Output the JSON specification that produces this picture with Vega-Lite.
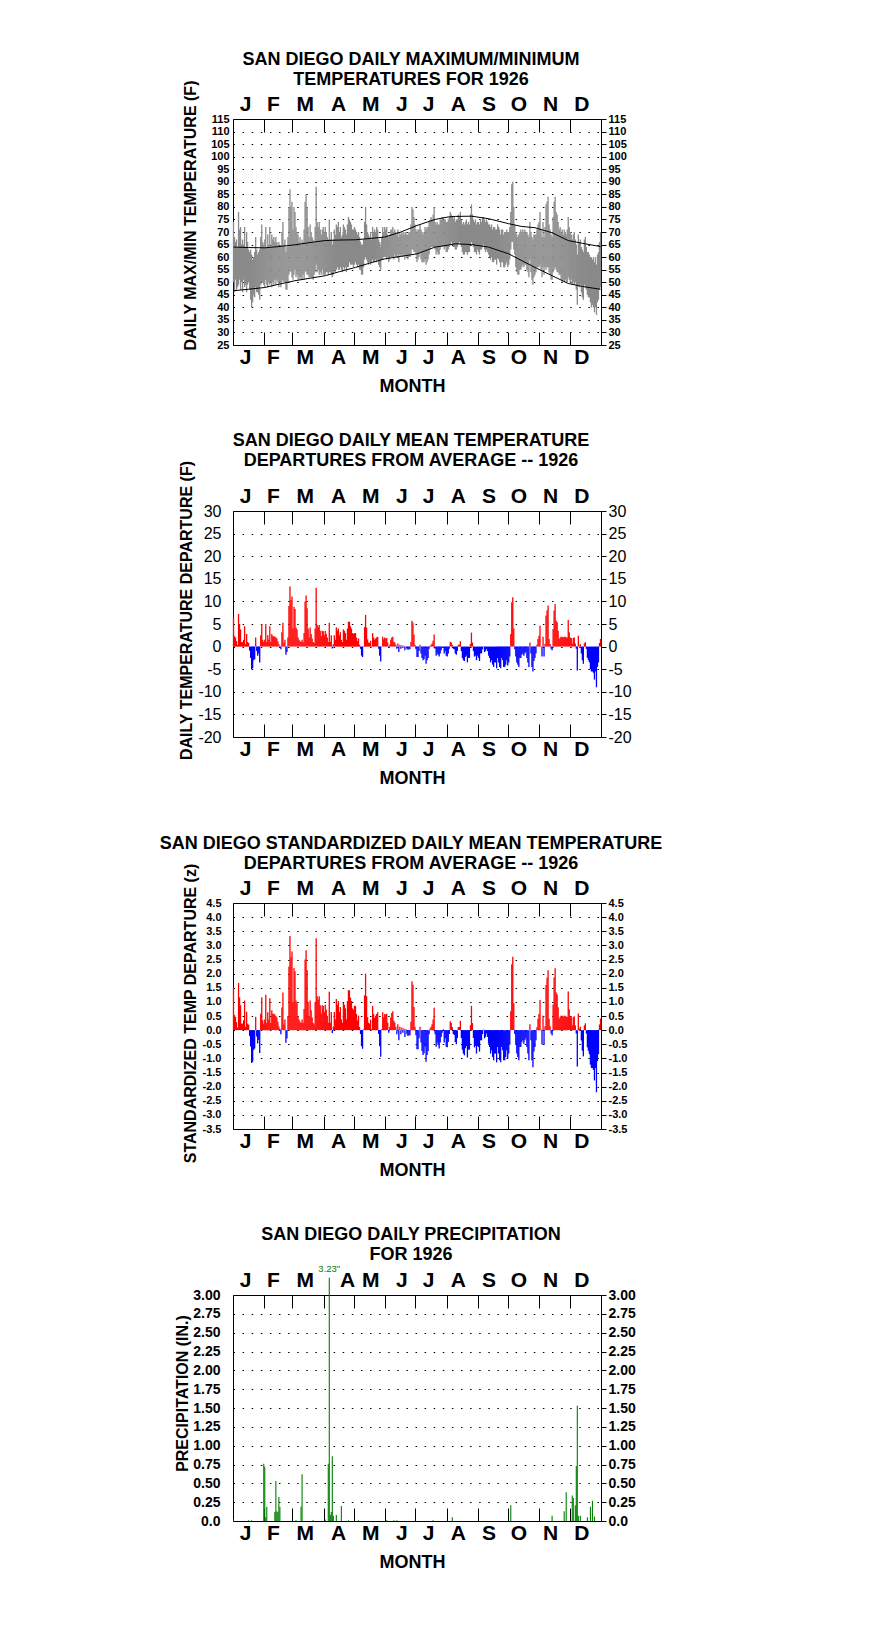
{
"$schema": "https://vega.github.io/schema/vega-lite/v6.json",
"background": "white",
"padding": {"left": 159, "top": 50, "right": 5, "bottom": 5},
"bounds": "flush",
"spacing": 166,
"config": {
  "font": "Liberation Sans",
  "view": {"stroke": "black", "strokeWidth": 1},
  "title": {"color": "black", "font": "Liberation Sans", "fontWeight": "bold", "fontSize": 18, "lineHeight": 20, "anchor": "middle", "frame": "group", "dx": -6, "offset": -9.5},
  "axis": {"grid": false, "labelColor": "black", "titleColor": "black", "tickColor": "black", "labelFont": "Liberation Sans", "titleFont": "Liberation Sans", "domain": false},
  "axisX": {"labelFontSize": 21, "labelFontWeight": "bold", "labelFlush": false, "labelOverlap": false, "labelBound": false, "ticks": false, "labelAngle": 0,
    "labelExpr": "datum.value < 20 ? 'J' : datum.value < 50 ? 'F' : datum.value < 80 ? 'M' : datum.value < 120 ? 'A' : datum.value < 150 ? 'M' : datum.value < 180 ? 'J' : datum.value < 210 ? 'J' : datum.value < 240 ? 'A' : datum.value < 270 ? 'S' : datum.value < 300 ? 'O' : datum.value < 330 ? 'N' : 'D'"},
  "axisTop": {"labelPadding": 4.5},
  "axisBottom": {"labelPadding": 1, "titleFontSize": 18, "titleFontWeight": "bold", "titlePadding": 10.5, "titleX": 179},
  "axisLeft": {"grid": true, "gridColor": "black", "gridDash": [1.5, 7.6], "gridWidth": 1, "ticks": false, "titleFontSize": 16, "titleFontWeight": "bold", "titleAngle": 270},
  "axisRight": {"ticks": true, "tickSize": 5, "labelPadding": 2}
},
"datasets": {
"days": [
{"d":1,"t":6.5,"z":1.51,"hi":74,"lo":50},{"d":2,"t":2.3,"z":0.53,"hi":68,"lo":46},{"d":3,"t":2.0,"z":0.47,"hi":66,"lo":51},{"d":4,"t":1.2,"z":0.28,"hi":67,"lo":47},{"d":5,"t":0.4,"z":0.09,"hi":64,"lo":48},{"d":6,"t":7.2,"z":1.67,"hi":78,"lo":49},{"d":7,"t":5.0,"z":1.16,"hi":71,"lo":51},{"d":8,"t":3.8,"z":0.88,"hi":72,"lo":47},{"d":9,"t":1.0,"z":0.23,"hi":65,"lo":50},{"d":10,"t":1.0,"z":0.23,"hi":67,"lo":46},
{"d":11,"t":1.5,"z":0.35,"hi":65,"lo":51},{"d":12,"t":4.5,"z":1.05,"hi":72,"lo":48},{"d":13,"t":0.5,"z":0.12,"hi":64,"lo":49},{"d":14,"t":2.8,"z":0.65,"hi":70,"lo":46},{"d":15,"t":1.0,"z":0.23,"hi":66,"lo":49},{"d":16,"t":0.8,"z":0.19,"hi":63,"lo":50},{"d":17,"t":-0.9,"z":-0.21,"hi":62,"lo":47},{"d":18,"t":-2.5,"z":-0.58,"hi":63,"lo":43},{"d":19,"t":-5.0,"z":-1.16,"hi":61,"lo":40},{"d":20,"t":-4.8,"z":-1.12,"hi":59,"lo":42},
{"d":21,"t":-3.0,"z":-0.70,"hi":60,"lo":45},{"d":22,"t":-2.8,"z":-0.65,"hi":62,"lo":44},{"d":23,"t":2.0,"z":0.47,"hi":68,"lo":48},{"d":24,"t":-1.0,"z":-0.23,"hi":63,"lo":46},{"d":25,"t":-2.0,"z":-0.47,"hi":61,"lo":46},{"d":26,"t":-1.5,"z":-0.35,"hi":62,"lo":45},{"d":27,"t":-3.5,"z":-0.81,"hi":63,"lo":43},{"d":28,"t":2.5,"z":0.58,"hi":68,"lo":49},{"d":29,"t":5.0,"z":1.16,"hi":73,"lo":50},{"d":30,"t":1.5,"z":0.35,"hi":66,"lo":50},
{"d":31,"t":1.0,"z":0.23,"hi":65,"lo":49},{"d":32,"t":1.5,"z":0.38,"hi":67,"lo":48},{"d":33,"t":5.0,"z":1.25,"hi":72,"lo":51},{"d":34,"t":1.0,"z":0.25,"hi":64,"lo":49},{"d":35,"t":2.5,"z":0.63,"hi":69,"lo":48},{"d":36,"t":1.5,"z":0.38,"hi":65,"lo":50},{"d":37,"t":4.5,"z":1.13,"hi":72,"lo":49},{"d":38,"t":1.0,"z":0.25,"hi":64,"lo":50},{"d":39,"t":2.8,"z":0.70,"hi":69,"lo":48},{"d":40,"t":2.3,"z":0.58,"hi":67,"lo":50},
{"d":41,"t":2.3,"z":0.58,"hi":68,"lo":49},{"d":42,"t":2.2,"z":0.55,"hi":66,"lo":51},{"d":43,"t":2.0,"z":0.50,"hi":68,"lo":49},{"d":44,"t":1.8,"z":0.45,"hi":66,"lo":51},{"d":45,"t":1.2,"z":0.30,"hi":65,"lo":50},{"d":46,"t":0.5,"z":0.13,"hi":66,"lo":48},{"d":47,"t":0.2,"z":0.05,"hi":64,"lo":50},{"d":48,"t":-0.6,"z":-0.15,"hi":64,"lo":48},{"d":49,"t":3.2,"z":0.80,"hi":70,"lo":50},{"d":50,"t":5.3,"z":1.33,"hi":74,"lo":51},
{"d":51,"t":0.8,"z":0.20,"hi":65,"lo":50},{"d":52,"t":1.5,"z":0.38,"hi":67,"lo":50},{"d":53,"t":-1.8,"z":-0.45,"hi":62,"lo":47},{"d":54,"t":-1.2,"z":-0.30,"hi":64,"lo":47},{"d":55,"t":2.0,"z":0.50,"hi":68,"lo":50},{"d":56,"t":9.0,"z":2.25,"hi":80,"lo":53},{"d":57,"t":13.3,"z":3.33,"hi":87,"lo":55},{"d":58,"t":10.3,"z":2.58,"hi":80,"lo":54},{"d":59,"t":11.1,"z":2.78,"hi":82,"lo":52},{"d":60,"t":4.0,"z":1.00,"hi":71,"lo":51},
{"d":61,"t":8.8,"z":2.20,"hi":80,"lo":53},{"d":62,"t":8.3,"z":2.08,"hi":78,"lo":55},{"d":63,"t":4.2,"z":1.05,"hi":72,"lo":52},{"d":64,"t":3.8,"z":0.95,"hi":70,"lo":53},{"d":65,"t":2.0,"z":0.50,"hi":69,"lo":51},{"d":66,"t":1.5,"z":0.38,"hi":66,"lo":52},{"d":67,"t":1.2,"z":0.30,"hi":68,"lo":51},{"d":68,"t":1.0,"z":0.25,"hi":65,"lo":52},{"d":69,"t":1.5,"z":0.38,"hi":67,"lo":51},{"d":70,"t":1.0,"z":0.25,"hi":66,"lo":53},
{"d":71,"t":3.0,"z":0.75,"hi":71,"lo":51},{"d":72,"t":10.0,"z":2.50,"hi":82,"lo":54},{"d":73,"t":11.3,"z":2.83,"hi":85,"lo":55},{"d":74,"t":8.5,"z":2.13,"hi":80,"lo":53},{"d":75,"t":4.0,"z":1.00,"hi":72,"lo":53},{"d":76,"t":2.0,"z":0.50,"hi":68,"lo":52},{"d":77,"t":4.2,"z":1.05,"hi":73,"lo":52},{"d":78,"t":2.8,"z":0.70,"hi":70,"lo":52},{"d":79,"t":1.8,"z":0.45,"hi":68,"lo":52},{"d":80,"t":1.0,"z":0.25,"hi":67,"lo":51},
{"d":81,"t":0.8,"z":0.20,"hi":66,"lo":53},{"d":82,"t":4.0,"z":1.00,"hi":72,"lo":54},{"d":83,"t":13.0,"z":3.25,"hi":88,"lo":57},{"d":84,"t":4.8,"z":1.20,"hi":74,"lo":54},{"d":85,"t":4.3,"z":1.08,"hi":72,"lo":55},{"d":86,"t":4.8,"z":1.20,"hi":74,"lo":53},{"d":87,"t":3.5,"z":0.88,"hi":71,"lo":54},{"d":88,"t":2.3,"z":0.58,"hi":69,"lo":53},{"d":89,"t":3.5,"z":0.88,"hi":71,"lo":55},{"d":90,"t":3.4,"z":0.85,"hi":72,"lo":53},
{"d":91,"t":2.5,"z":0.64,"hi":70,"lo":53},{"d":92,"t":3.5,"z":0.90,"hi":72,"lo":53},{"d":93,"t":2.8,"z":0.72,"hi":70,"lo":54},{"d":94,"t":2.0,"z":0.51,"hi":68,"lo":54},{"d":95,"t":1.0,"z":0.26,"hi":67,"lo":53},{"d":96,"t":5.3,"z":1.36,"hi":75,"lo":54},{"d":97,"t":1.0,"z":0.26,"hi":67,"lo":54},{"d":98,"t":2.5,"z":0.64,"hi":70,"lo":53},{"d":99,"t":-0.4,"z":-0.10,"hi":65,"lo":52},{"d":100,"t":0.5,"z":0.13,"hi":67,"lo":53},
{"d":101,"t":2.5,"z":0.64,"hi":71,"lo":55},{"d":102,"t":1.5,"z":0.38,"hi":69,"lo":54},{"d":103,"t":4.3,"z":1.10,"hi":73,"lo":55},{"d":104,"t":3.5,"z":0.90,"hi":72,"lo":56},{"d":105,"t":4.0,"z":1.03,"hi":74,"lo":55},{"d":106,"t":2.5,"z":0.64,"hi":70,"lo":55},{"d":107,"t":3.2,"z":0.82,"hi":72,"lo":56},{"d":108,"t":1.5,"z":0.38,"hi":68,"lo":55},{"d":109,"t":1.0,"z":0.26,"hi":69,"lo":54},{"d":110,"t":3.8,"z":0.97,"hi":73,"lo":56},
{"d":111,"t":3.5,"z":0.90,"hi":72,"lo":55},{"d":112,"t":3.0,"z":0.77,"hi":71,"lo":56},{"d":113,"t":1.5,"z":0.38,"hi":69,"lo":54},{"d":114,"t":4.0,"z":1.03,"hi":73,"lo":56},{"d":115,"t":5.5,"z":1.41,"hi":76,"lo":56},{"d":116,"t":5.5,"z":1.41,"hi":75,"lo":58},{"d":117,"t":4.5,"z":1.15,"hi":74,"lo":57},{"d":118,"t":4.0,"z":1.03,"hi":73,"lo":57},{"d":119,"t":3.0,"z":0.77,"hi":71,"lo":57},{"d":120,"t":2.8,"z":0.72,"hi":71,"lo":56},
{"d":121,"t":3.0,"z":0.86,"hi":72,"lo":57},{"d":122,"t":3.0,"z":0.86,"hi":71,"lo":58},{"d":123,"t":2.0,"z":0.57,"hi":70,"lo":57},{"d":124,"t":1.2,"z":0.34,"hi":69,"lo":56},{"d":125,"t":1.8,"z":0.51,"hi":70,"lo":57},{"d":126,"t":0.4,"z":0.11,"hi":68,"lo":55},{"d":127,"t":-0.5,"z":-0.14,"hi":66,"lo":55},{"d":128,"t":-2.0,"z":-0.57,"hi":65,"lo":53},{"d":129,"t":-2.3,"z":-0.66,"hi":65,"lo":53},{"d":130,"t":0.1,"z":0.03,"hi":67,"lo":56},
{"d":131,"t":4.3,"z":1.23,"hi":74,"lo":59},{"d":132,"t":7.0,"z":2.00,"hi":80,"lo":60},{"d":133,"t":4.2,"z":1.20,"hi":73,"lo":59},{"d":134,"t":1.6,"z":0.46,"hi":70,"lo":58},{"d":135,"t":0.9,"z":0.26,"hi":69,"lo":57},{"d":136,"t":0.8,"z":0.23,"hi":68,"lo":58},{"d":137,"t":1.3,"z":0.37,"hi":70,"lo":57},{"d":138,"t":0.1,"z":0.03,"hi":67,"lo":58},{"d":139,"t":3.0,"z":0.86,"hi":72,"lo":59},{"d":140,"t":2.0,"z":0.57,"hi":70,"lo":58},
{"d":141,"t":1.5,"z":0.43,"hi":71,"lo":58},{"d":142,"t":1.8,"z":0.51,"hi":70,"lo":59},{"d":143,"t":2.0,"z":0.57,"hi":72,"lo":58},{"d":144,"t":2.2,"z":0.63,"hi":71,"lo":59},{"d":145,"t":-0.5,"z":-0.14,"hi":67,"lo":57},{"d":146,"t":-2.0,"z":-0.57,"hi":66,"lo":56},{"d":147,"t":-3.3,"z":-0.94,"hi":64,"lo":55},{"d":148,"t":0.1,"z":0.03,"hi":68,"lo":59},{"d":149,"t":2.2,"z":0.63,"hi":72,"lo":59},{"d":150,"t":1.6,"z":0.46,"hi":70,"lo":60},
{"d":151,"t":2.0,"z":0.57,"hi":72,"lo":60},{"d":152,"t":1.8,"z":0.55,"hi":71,"lo":60},{"d":153,"t":1.9,"z":0.58,"hi":72,"lo":59},{"d":154,"t":0.9,"z":0.27,"hi":69,"lo":60},{"d":155,"t":-0.3,"z":-0.09,"hi":68,"lo":58},{"d":156,"t":0.4,"z":0.12,"hi":69,"lo":59},{"d":157,"t":1.5,"z":0.45,"hi":71,"lo":60},{"d":158,"t":2.0,"z":0.61,"hi":71,"lo":60},{"d":159,"t":2.2,"z":0.67,"hi":72,"lo":60},{"d":160,"t":1.1,"z":0.33,"hi":70,"lo":59},
{"d":161,"t":0.9,"z":0.27,"hi":71,"lo":61},{"d":162,"t":0.4,"z":0.12,"hi":70,"lo":60},{"d":163,"t":-0.5,"z":-0.15,"hi":69,"lo":60},{"d":164,"t":0.7,"z":0.21,"hi":71,"lo":61},{"d":165,"t":-1.2,"z":-0.36,"hi":68,"lo":58},{"d":166,"t":0.4,"z":0.12,"hi":70,"lo":61},{"d":167,"t":-0.5,"z":-0.15,"hi":69,"lo":60},{"d":168,"t":0.3,"z":0.09,"hi":70,"lo":61},{"d":169,"t":-0.3,"z":-0.09,"hi":69,"lo":60},{"d":170,"t":0.2,"z":0.06,"hi":70,"lo":61},
{"d":171,"t":-0.8,"z":-0.24,"hi":69,"lo":59},{"d":172,"t":0.1,"z":0.03,"hi":70,"lo":61},{"d":173,"t":-0.5,"z":-0.15,"hi":69,"lo":60},{"d":174,"t":-0.7,"z":-0.21,"hi":69,"lo":59},{"d":175,"t":-0.6,"z":-0.18,"hi":70,"lo":60},{"d":176,"t":-0.6,"z":-0.18,"hi":70,"lo":60},{"d":177,"t":1.0,"z":0.30,"hi":73,"lo":61},{"d":178,"t":5.7,"z":1.73,"hi":80,"lo":63},{"d":179,"t":5.3,"z":1.61,"hi":79,"lo":63},{"d":180,"t":2.7,"z":0.82,"hi":76,"lo":62},
{"d":181,"t":0.4,"z":0.12,"hi":73,"lo":62},{"d":182,"t":-0.6,"z":-0.18,"hi":71,"lo":61},{"d":183,"t":-2.3,"z":-0.68,"hi":70,"lo":58},{"d":184,"t":-2.3,"z":-0.68,"hi":71,"lo":59},{"d":185,"t":-1.0,"z":-0.29,"hi":71,"lo":60},{"d":186,"t":0.4,"z":0.12,"hi":73,"lo":62},{"d":187,"t":-1.5,"z":-0.44,"hi":71,"lo":59},{"d":188,"t":-2.5,"z":-0.74,"hi":70,"lo":58},{"d":189,"t":-3.0,"z":-0.88,"hi":69,"lo":58},{"d":190,"t":-2.8,"z":-0.82,"hi":70,"lo":58},
{"d":191,"t":-2.0,"z":-0.59,"hi":72,"lo":59},{"d":192,"t":-3.8,"z":-1.12,"hi":71,"lo":57},{"d":193,"t":-3.0,"z":-0.88,"hi":72,"lo":58},{"d":194,"t":-2.5,"z":-0.74,"hi":72,"lo":59},{"d":195,"t":-0.5,"z":-0.15,"hi":74,"lo":61},{"d":196,"t":0.2,"z":0.06,"hi":75,"lo":63},{"d":197,"t":0.4,"z":0.12,"hi":76,"lo":64},{"d":198,"t":0.7,"z":0.21,"hi":75,"lo":64},{"d":199,"t":1.3,"z":0.38,"hi":77,"lo":64},{"d":200,"t":2.7,"z":0.79,"hi":80,"lo":64},
{"d":201,"t":-0.5,"z":-0.15,"hi":74,"lo":63},{"d":202,"t":-2.0,"z":-0.59,"hi":73,"lo":61},{"d":203,"t":-1.5,"z":-0.44,"hi":74,"lo":62},{"d":204,"t":-1.8,"z":-0.53,"hi":73,"lo":61},{"d":205,"t":-2.2,"z":-0.65,"hi":73,"lo":61},{"d":206,"t":-1.5,"z":-0.44,"hi":75,"lo":63},{"d":207,"t":-0.8,"z":-0.24,"hi":75,"lo":64},{"d":208,"t":-0.3,"z":-0.09,"hi":76,"lo":64},{"d":209,"t":0.1,"z":0.03,"hi":76,"lo":65},{"d":210,"t":-1.5,"z":-0.44,"hi":75,"lo":63},
{"d":211,"t":-1.0,"z":-0.29,"hi":75,"lo":64},{"d":212,"t":-2.0,"z":-0.59,"hi":74,"lo":62},{"d":213,"t":-2.2,"z":-0.61,"hi":74,"lo":62},{"d":214,"t":-1.5,"z":-0.42,"hi":75,"lo":63},{"d":215,"t":-0.5,"z":-0.14,"hi":76,"lo":64},{"d":216,"t":1.1,"z":0.31,"hi":78,"lo":65},{"d":217,"t":0.9,"z":0.25,"hi":77,"lo":66},{"d":218,"t":0.4,"z":0.11,"hi":76,"lo":65},{"d":219,"t":-0.5,"z":-0.14,"hi":75,"lo":64},{"d":220,"t":-0.6,"z":-0.17,"hi":76,"lo":64},
{"d":221,"t":-1.5,"z":-0.42,"hi":74,"lo":63},{"d":222,"t":-1.8,"z":-0.50,"hi":75,"lo":63},{"d":223,"t":-1.0,"z":-0.28,"hi":75,"lo":64},{"d":224,"t":0.4,"z":0.11,"hi":77,"lo":65},{"d":225,"t":0.4,"z":0.11,"hi":76,"lo":66},{"d":226,"t":1.2,"z":0.33,"hi":78,"lo":65},{"d":227,"t":-1.0,"z":-0.28,"hi":75,"lo":64},{"d":228,"t":-2.5,"z":-0.69,"hi":73,"lo":62},{"d":229,"t":-3.0,"z":-0.83,"hi":74,"lo":61},{"d":230,"t":-3.2,"z":-0.89,"hi":73,"lo":61},
{"d":231,"t":-2.3,"z":-0.64,"hi":74,"lo":62},{"d":232,"t":-2.0,"z":-0.56,"hi":75,"lo":62},{"d":233,"t":-3.5,"z":-0.97,"hi":73,"lo":61},{"d":234,"t":-2.5,"z":-0.69,"hi":74,"lo":62},{"d":235,"t":-2.5,"z":-0.69,"hi":73,"lo":62},{"d":236,"t":0.6,"z":0.17,"hi":77,"lo":65},{"d":237,"t":3.1,"z":0.86,"hi":81,"lo":66},{"d":238,"t":0.9,"z":0.25,"hi":77,"lo":65},{"d":239,"t":-1.0,"z":-0.28,"hi":75,"lo":64},{"d":240,"t":-2.2,"z":-0.61,"hi":74,"lo":62},
{"d":241,"t":-2.0,"z":-0.56,"hi":75,"lo":62},{"d":242,"t":-3.0,"z":-0.83,"hi":73,"lo":61},{"d":243,"t":-2.0,"z":-0.56,"hi":74,"lo":63},{"d":244,"t":-2.5,"z":-0.60,"hi":74,"lo":62},{"d":245,"t":-3.2,"z":-0.76,"hi":73,"lo":61},{"d":246,"t":-1.5,"z":-0.36,"hi":75,"lo":63},{"d":247,"t":-1.5,"z":-0.36,"hi":74,"lo":63},{"d":248,"t":-0.6,"z":-0.14,"hi":76,"lo":64},{"d":249,"t":0.1,"z":0.02,"hi":76,"lo":65},{"d":250,"t":-1.2,"z":-0.29,"hi":75,"lo":63},
{"d":251,"t":-1.0,"z":-0.24,"hi":74,"lo":62},{"d":252,"t":-0.5,"z":-0.12,"hi":75,"lo":63},{"d":253,"t":-1.0,"z":-0.24,"hi":74,"lo":62},{"d":254,"t":-2.0,"z":-0.48,"hi":73,"lo":61},{"d":255,"t":-2.5,"z":-0.60,"hi":73,"lo":60},{"d":256,"t":-3.5,"z":-0.83,"hi":72,"lo":59},{"d":257,"t":-3.0,"z":-0.71,"hi":73,"lo":60},{"d":258,"t":-4.0,"z":-0.95,"hi":71,"lo":58},{"d":259,"t":-4.5,"z":-1.07,"hi":72,"lo":58},{"d":260,"t":-3.5,"z":-0.83,"hi":72,"lo":59},
{"d":261,"t":-3.5,"z":-0.83,"hi":71,"lo":59},{"d":262,"t":-4.8,"z":-1.14,"hi":71,"lo":57},{"d":263,"t":-2.5,"z":-0.60,"hi":73,"lo":60},{"d":264,"t":-3.5,"z":-0.83,"hi":72,"lo":59},{"d":265,"t":-4.5,"z":-1.07,"hi":71,"lo":58},{"d":266,"t":-4.8,"z":-1.14,"hi":69,"lo":56},{"d":267,"t":-2.5,"z":-0.60,"hi":71,"lo":58},{"d":268,"t":-3.0,"z":-0.71,"hi":71,"lo":58},{"d":269,"t":-4.5,"z":-1.07,"hi":69,"lo":56},{"d":270,"t":-4.5,"z":-1.07,"hi":70,"lo":56},
{"d":271,"t":-4.0,"z":-0.95,"hi":70,"lo":57},{"d":272,"t":-3.0,"z":-0.71,"hi":71,"lo":58},{"d":273,"t":-4.2,"z":-1.00,"hi":70,"lo":56},{"d":274,"t":-3.5,"z":-0.83,"hi":70,"lo":57},{"d":275,"t":-2.2,"z":-0.52,"hi":72,"lo":59},{"d":276,"t":2.8,"z":0.67,"hi":78,"lo":63},{"d":277,"t":9.8,"z":2.33,"hi":89,"lo":66},{"d":278,"t":10.9,"z":2.60,"hi":90,"lo":66},{"d":279,"t":4.0,"z":0.95,"hi":80,"lo":63},{"d":280,"t":-0.6,"z":-0.14,"hi":73,"lo":61},
{"d":281,"t":-2.2,"z":-0.52,"hi":70,"lo":56},{"d":282,"t":-3.5,"z":-0.83,"hi":69,"lo":54},{"d":283,"t":-4.0,"z":-0.95,"hi":68,"lo":53},{"d":284,"t":-4.5,"z":-1.07,"hi":69,"lo":53},{"d":285,"t":-2.5,"z":-0.60,"hi":70,"lo":55},{"d":286,"t":-2.5,"z":-0.60,"hi":71,"lo":55},{"d":287,"t":-1.8,"z":-0.43,"hi":70,"lo":56},{"d":288,"t":-1.5,"z":-0.36,"hi":71,"lo":57},{"d":289,"t":-2.0,"z":-0.48,"hi":70,"lo":56},{"d":290,"t":-1.5,"z":-0.36,"hi":71,"lo":57},
{"d":291,"t":-1.2,"z":-0.29,"hi":70,"lo":57},{"d":292,"t":-2.5,"z":-0.60,"hi":70,"lo":55},{"d":293,"t":-3.5,"z":-0.83,"hi":69,"lo":54},{"d":294,"t":-4.5,"z":-1.07,"hi":68,"lo":52},{"d":295,"t":0.9,"z":0.21,"hi":74,"lo":59},{"d":296,"t":-1.5,"z":-0.36,"hi":70,"lo":54},{"d":297,"t":-4.5,"z":-1.07,"hi":68,"lo":51},{"d":298,"t":-5.5,"z":-1.31,"hi":67,"lo":49},{"d":299,"t":-3.2,"z":-0.76,"hi":69,"lo":52},{"d":300,"t":-2.5,"z":-0.60,"hi":69,"lo":53},
{"d":301,"t":-1.5,"z":-0.36,"hi":69,"lo":54},{"d":302,"t":0.4,"z":0.10,"hi":71,"lo":56},{"d":303,"t":1.7,"z":0.40,"hi":73,"lo":56},{"d":304,"t":2.4,"z":0.57,"hi":74,"lo":56},{"d":305,"t":4.6,"z":1.07,"hi":78,"lo":57},{"d":306,"t":0.1,"z":0.02,"hi":71,"lo":55},{"d":307,"t":-2.2,"z":-0.51,"hi":68,"lo":52},{"d":308,"t":2.2,"z":0.51,"hi":74,"lo":56},{"d":309,"t":-2.2,"z":-0.51,"hi":68,"lo":53},{"d":310,"t":0.6,"z":0.14,"hi":72,"lo":56},
{"d":311,"t":6.9,"z":1.60,"hi":81,"lo":55},{"d":312,"t":8.0,"z":1.86,"hi":82,"lo":56},{"d":313,"t":9.1,"z":2.12,"hi":84,"lo":56},{"d":314,"t":1.7,"z":0.40,"hi":73,"lo":54},{"d":315,"t":0.6,"z":0.14,"hi":71,"lo":53},{"d":316,"t":-0.5,"z":-0.12,"hi":69,"lo":51},{"d":317,"t":-0.8,"z":-0.19,"hi":68,"lo":51},{"d":318,"t":3.9,"z":0.91,"hi":76,"lo":54},{"d":319,"t":8.0,"z":1.86,"hi":82,"lo":55},{"d":320,"t":9.4,"z":2.19,"hi":84,"lo":56},
{"d":321,"t":5.7,"z":1.33,"hi":78,"lo":55},{"d":322,"t":5.4,"z":1.26,"hi":77,"lo":54},{"d":323,"t":3.5,"z":0.81,"hi":74,"lo":54},{"d":324,"t":1.7,"z":0.40,"hi":71,"lo":53},{"d":325,"t":2.0,"z":0.47,"hi":72,"lo":53},{"d":326,"t":2.2,"z":0.51,"hi":70,"lo":51},{"d":327,"t":2.2,"z":0.51,"hi":71,"lo":50},{"d":328,"t":2.0,"z":0.47,"hi":69,"lo":51},{"d":329,"t":2.2,"z":0.51,"hi":71,"lo":50},{"d":330,"t":2.2,"z":0.51,"hi":70,"lo":51},
{"d":331,"t":2.0,"z":0.47,"hi":69,"lo":50},{"d":332,"t":2.0,"z":0.47,"hi":71,"lo":50},{"d":333,"t":5.9,"z":1.37,"hi":76,"lo":52},{"d":334,"t":3.2,"z":0.74,"hi":72,"lo":51},{"d":335,"t":2.0,"z":0.49,"hi":70,"lo":50},{"d":336,"t":1.9,"z":0.46,"hi":69,"lo":51},{"d":337,"t":0.7,"z":0.17,"hi":67,"lo":49},{"d":338,"t":1.9,"z":0.46,"hi":69,"lo":50},{"d":339,"t":2.0,"z":0.49,"hi":70,"lo":49},{"d":340,"t":0.7,"z":0.17,"hi":67,"lo":50},
{"d":341,"t":-0.5,"z":-0.12,"hi":65,"lo":47},{"d":342,"t":-5.3,"z":-1.29,"hi":61,"lo":41},{"d":343,"t":2.4,"z":0.59,"hi":69,"lo":49},{"d":344,"t":0.2,"z":0.05,"hi":66,"lo":48},{"d":345,"t":0.5,"z":0.12,"hi":67,"lo":49},{"d":346,"t":-1.5,"z":-0.37,"hi":64,"lo":46},{"d":347,"t":-3.0,"z":-0.73,"hi":63,"lo":44},{"d":348,"t":-3.8,"z":-0.93,"hi":62,"lo":43},{"d":349,"t":0.7,"z":0.17,"hi":67,"lo":49},{"d":350,"t":1.0,"z":0.24,"hi":68,"lo":48},
{"d":351,"t":-0.5,"z":-0.12,"hi":64,"lo":47},{"d":352,"t":-2.5,"z":-0.61,"hi":62,"lo":45},{"d":353,"t":-3.0,"z":-0.73,"hi":62,"lo":44},{"d":354,"t":-3.5,"z":-0.85,"hi":61,"lo":44},{"d":355,"t":-5.0,"z":-1.22,"hi":60,"lo":42},{"d":356,"t":-5.5,"z":-1.34,"hi":60,"lo":40},{"d":357,"t":-5.5,"z":-1.34,"hi":59,"lo":41},{"d":358,"t":-5.8,"z":-1.41,"hi":60,"lo":40},{"d":359,"t":-7.3,"z":-1.78,"hi":58,"lo":38},{"d":360,"t":-5.5,"z":-1.34,"hi":60,"lo":40},
{"d":361,"t":-9.0,"z":-2.20,"hi":57,"lo":37},{"d":362,"t":-4.5,"z":-1.10,"hi":61,"lo":42},{"d":363,"t":-3.5,"z":-0.85,"hi":62,"lo":43},{"d":364,"t":0.8,"z":0.20,"hi":66,"lo":47},{"d":365,"t":1.7,"z":0.41,"hi":70,"lo":48}
],
"norm": [
{"d":1,"mx":64.0,"mn":46.6},{"d":16,"mx":63.8,"mn":47.2},{"d":32,"mx":63.7,"mn":47.9},{"d":46,"mx":64.2,"mn":49.2},{"d":62,"mx":64.9,"mn":50.6},{"d":77,"mx":65.8,"mn":51.6},{"d":92,"mx":66.6,"mn":52.6},{"d":106,"mx":66.8,"mn":54.2},{"d":122,"mx":66.9,"mn":55.9},{"d":136,"mx":67.4,"mn":57.6},{"d":151,"mx":68.0,"mn":59.3},{"d":167,"mx":70.0,"mn":60.3},{"d":183,"mx":72.6,"mn":61.3},{"d":201,"mx":75.0,"mn":64.0},{"d":214,"mx":76.0,"mn":64.8},{"d":221,"mx":76.2,"mn":65.3},{"d":237,"mx":76.3,"mn":65.0},{"d":254,"mx":75.3,"mn":64.0},{"d":274,"mx":73.3,"mn":61.3},{"d":287,"mx":72.2,"mn":58.6},{"d":300,"mx":71.7,"mn":55.9},{"d":317,"mx":69.7,"mn":52.6},{"d":333,"mx":66.6,"mn":49.5},{"d":347,"mx":65.5,"mn":48.3},{"d":365,"mx":64.2,"mn":47.2}
],
"rain": [
{"d":1,"p":0.02},{"d":16,"p":0.01},{"d":19,"p":0.01},{"d":31,"p":0.76},{"d":32,"p":0.72},{"d":33,"p":0.05},{"d":34,"p":0.19},{"d":42,"p":0.12},{"d":43,"p":0.53},{"d":44,"p":0.13},{"d":45,"p":0.12},{"d":46,"p":0.32},{"d":47,"p":0.19},{"d":63,"p":0.01},{"d":68,"p":0.19},{"d":69,"p":0.62},{"d":80,"p":0.01},{"d":92,"p":0.02},{"d":95,"p":0.76},{"d":96,"p":3.23},{"d":97,"p":0.08},{"d":98,"p":0.12},{"d":99,"p":0.86},{"d":100,"p":0.07},{"d":103,"p":0.08},{"d":108,"p":0.2},{"d":115,"p":0.01},{"d":125,"p":0.01},{"d":153,"p":0.01},{"d":160,"p":0.01},{"d":163,"p":0.01},{"d":199,"p":0.01},{"d":218,"p":0.05},{"d":276,"p":0.21},{"d":317,"p":0.07},{"d":329,"p":0.13},{"d":331,"p":0.38},{"d":337,"p":0.34},{"d":338,"p":0.31},{"d":340,"p":0.21},{"d":341,"p":0.73},{"d":342,"p":1.53},{"d":343,"p":0.07},{"d":345,"p":0.07},{"d":352,"p":0.05},{"d":355,"p":0.19},{"d":357,"p":0.27},{"d":359,"p":0.06}
]
},
"vconcat": [
{
 "width": 368, "height": 226,
 "title": {"text": ["SAN DIEGO DAILY MAXIMUM/MINIMUM", "TEMPERATURES FOR 1926"]},
 "resolve": {"axis": {"x": "independent", "y": "independent"}},
 "layer": [
  {"data": {"name": "days"}, "mark": {"type": "rule", "color": "#8a8a8a", "strokeWidth": 1.3},
   "encoding": {
    "x": {"field": "d", "type": "quantitative", "scale": {"domain": [0.5, 365.5], "nice": false, "zero": false},
      "axis": {"orient": "bottom", "values": [12.4, 40.2, 71.6, 104.7, 136.7, 167.5, 194, 223.4, 253.8, 283.5, 315, 346], "title": "MONTH"}},
    "y": {"field": "lo", "type": "quantitative", "scale": {"domain": [25, 115], "nice": false, "zero": false},
      "axis": {"orient": "left", "values": [25,30,35,40,45,50,55,60,65,70,75,80,85,90,95,100,105,110,115], "labelFontSize": 11, "labelFontWeight": "bold", "labelPadding": 4, "title": "DAILY MAX/MIN TEMPERATURE (F)", "titleX": -35, "titleY": 96}},
    "y2": {"field": "hi"}
   }},
  {"data": {"name": "norm"}, "mark": {"type": "line", "color": "black", "strokeWidth": 1},
   "encoding": {
    "x": {"field": "d", "type": "quantitative", "axis": {"orient": "top", "values": [12.4, 40.2, 71.6, 104.7, 136.7, 167.5, 194, 223.4, 253.8, 283.5, 315, 346], "title": null}},
    "y": {"field": "mx", "type": "quantitative", "axis": {"orient": "right", "values": [25,30,35,40,45,50,55,60,65,70,75,80,85,90,95,100,105,110,115], "labelFontSize": 11, "labelFontWeight": "bold", "title": null}}
   }},
  {"data": {"name": "norm"}, "mark": {"type": "line", "color": "black", "strokeWidth": 1},
   "encoding": {
    "x": {"field": "d", "type": "quantitative", "axis": {"orient": "top", "values": [31.5, 59.5, 90.5, 120.5, 151.5, 181.5, 212.5, 243.5, 273.5, 304.5, 334.5], "labels": false, "ticks": true, "tickSize": -13, "title": null}},
    "y": {"field": "mn", "type": "quantitative", "axis": null}
   }},
  {"data": {"name": "norm"}, "mark": {"type": "point", "opacity": 0},
   "encoding": {
    "x": {"field": "d", "type": "quantitative", "axis": {"orient": "bottom", "values": [31.5, 59.5, 90.5, 120.5, 151.5, 181.5, 212.5, 243.5, 273.5, 304.5, 334.5], "labels": false, "ticks": true, "tickSize": -13, "title": null}},
    "y": {"field": "mn", "type": "quantitative", "axis": null}
   }}
 ]
},
{
 "width": 368, "height": 226,
 "title": {"text": ["SAN DIEGO DAILY MEAN TEMPERATURE", "DEPARTURES FROM AVERAGE -- 1926"]},
 "data": {"name": "days"},
 "resolve": {"axis": {"x": "independent", "y": "independent"}},
 "layer": [
  {"mark": {"type": "rule", "strokeWidth": 1.3},
   "encoding": {
    "x": {"field": "d", "type": "quantitative", "scale": {"domain": [0.5, 365.5], "nice": false, "zero": false},
      "axis": {"orient": "bottom", "values": [12.4, 40.2, 71.6, 104.7, 136.7, 167.5, 194, 223.4, 253.8, 283.5, 315, 346], "title": "MONTH"}},
    "y": {"field": "t", "type": "quantitative", "scale": {"domain": [-20, 30], "nice": false, "zero": false},
      "axis": {"orient": "left", "values": [-20,-15,-10,-5,0,5,10,15,20,25,30], "labelExpr": "datum.value < 0 ? '-' + (-datum.value) : '' + datum.value", "labelFontSize": 16, "labelFontWeight": "normal", "labelPadding": 12, "title": "DAILY TEMPERATURE DEPARTURE (F)", "titleX": -39, "titleY": 99}},
    "y2": {"datum": 0},
    "color": {"condition": {"test": "datum.t > 0", "value": "#ff0000"}, "value": "#0000ff"}
   }},
  {"mark": {"type": "point", "opacity": 0},
   "encoding": {
    "x": {"field": "d", "type": "quantitative", "axis": {"orient": "top", "values": [12.4, 40.2, 71.6, 104.7, 136.7, 167.5, 194, 223.4, 253.8, 283.5, 315, 346], "title": null}},
    "y": {"field": "t", "type": "quantitative", "axis": {"orient": "right", "values": [-20,-15,-10,-5,0,5,10,15,20,25,30], "labelExpr": "datum.value < 0 ? '-' + (-datum.value) : '' + datum.value", "labelFontSize": 16, "labelFontWeight": "normal", "title": null}}
   }},
  {"mark": {"type": "point", "opacity": 0},
   "encoding": {
    "x": {"field": "d", "type": "quantitative", "axis": {"orient": "top", "values": [31.5, 59.5, 90.5, 120.5, 151.5, 181.5, 212.5, 243.5, 273.5, 304.5, 334.5], "labels": false, "ticks": true, "tickSize": -13, "title": null}},
    "y": {"field": "t", "type": "quantitative", "axis": null}
   }},
  {"mark": {"type": "point", "opacity": 0},
   "encoding": {
    "x": {"field": "d", "type": "quantitative", "axis": {"orient": "bottom", "values": [31.5, 59.5, 90.5, 120.5, 151.5, 181.5, 212.5, 243.5, 273.5, 304.5, 334.5], "labels": false, "ticks": true, "tickSize": -13, "title": null}},
    "y": {"field": "t", "type": "quantitative", "axis": null}
   }}
 ]
},
{
 "width": 368, "height": 226,
 "title": {"text": ["SAN DIEGO STANDARDIZED DAILY MEAN TEMPERATURE", "DEPARTURES FROM AVERAGE -- 1926"]},
 "data": {"name": "days"},
 "resolve": {"axis": {"x": "independent", "y": "independent"}},
 "layer": [
  {"mark": {"type": "rule", "strokeWidth": 1.3},
   "encoding": {
    "x": {"field": "d", "type": "quantitative", "scale": {"domain": [0.5, 365.5], "nice": false, "zero": false},
      "axis": {"orient": "bottom", "values": [12.4, 40.2, 71.6, 104.7, 136.7, 167.5, 194, 223.4, 253.8, 283.5, 315, 346], "title": "MONTH"}},
    "y": {"field": "z", "type": "quantitative", "scale": {"domain": [-3.5, 4.5], "nice": false, "zero": false},
      "axis": {"orient": "left", "values": [-3.5,-3,-2.5,-2,-1.5,-1,-0.5,0,0.5,1,1.5,2,2.5,3,3.5,4,4.5], "labelExpr": "datum.value < 0 ? '-' + format(-datum.value, '.1f') : format(datum.value, '.1f')", "labelFontSize": 11, "labelFontWeight": "bold", "labelPadding": 12, "title": "STANDARDIZED TEMP DEPARTURE (z)", "titleX": -35, "titleY": 110}},
    "y2": {"datum": 0},
    "color": {"condition": {"test": "datum.z > 0", "value": "#ff0000"}, "value": "#0000ff"}
   }},
  {"mark": {"type": "point", "opacity": 0},
   "encoding": {
    "x": {"field": "d", "type": "quantitative", "axis": {"orient": "top", "values": [12.4, 40.2, 71.6, 104.7, 136.7, 167.5, 194, 223.4, 253.8, 283.5, 315, 346], "title": null}},
    "y": {"field": "z", "type": "quantitative", "axis": {"orient": "right", "values": [-3.5,-3,-2.5,-2,-1.5,-1,-0.5,0,0.5,1,1.5,2,2.5,3,3.5,4,4.5], "labelExpr": "datum.value < 0 ? '-' + format(-datum.value, '.1f') : format(datum.value, '.1f')", "labelFontSize": 11, "labelFontWeight": "bold", "title": null}}
   }},
  {"mark": {"type": "point", "opacity": 0},
   "encoding": {
    "x": {"field": "d", "type": "quantitative", "axis": {"orient": "top", "values": [31.5, 59.5, 90.5, 120.5, 151.5, 181.5, 212.5, 243.5, 273.5, 304.5, 334.5], "labels": false, "ticks": true, "tickSize": -13, "title": null}},
    "y": {"field": "z", "type": "quantitative", "axis": null}
   }},
  {"mark": {"type": "point", "opacity": 0},
   "encoding": {
    "x": {"field": "d", "type": "quantitative", "axis": {"orient": "bottom", "values": [31.5, 59.5, 90.5, 120.5, 151.5, 181.5, 212.5, 243.5, 273.5, 304.5, 334.5], "labels": false, "ticks": true, "tickSize": -13, "title": null}},
    "y": {"field": "z", "type": "quantitative", "axis": null}
   }}
 ]
},
{
 "width": 368, "height": 226,
 "title": {"text": ["SAN DIEGO DAILY PRECIPITATION", "FOR 1926"], "offset": -0.5},
 "data": {"name": "rain"},
 "resolve": {"axis": {"x": "independent", "y": "independent"}},
 "layer": [
  {"mark": {"type": "rule", "color": "#008000", "strokeWidth": 1.1},
   "encoding": {
    "x": {"field": "d", "type": "quantitative", "scale": {"domain": [0.5, 365.5], "nice": false, "zero": false},
      "axis": {"orient": "bottom", "values": [12.4, 40.2, 71.6, 104.7, 136.7, 167.5, 194, 223.4, 253.8, 283.5, 315, 346], "title": "MONTH"}},
    "y": {"field": "p", "type": "quantitative", "scale": {"domain": [0, 3], "nice": false, "zero": false},
      "axis": {"orient": "left", "values": [0,0.25,0.5,0.75,1,1.25,1.5,1.75,2,2.25,2.5,2.75,3], "labelExpr": "datum.value == 0 ? '0.0' : format(datum.value, '.2f')", "labelFontSize": 14, "labelFontWeight": "bold", "labelPadding": 13, "title": "PRECIPITATION (IN.)", "titleX": -43, "titleY": 98}},
    "y2": {"datum": 0}
   }},
  {"transform": [{"filter": "datum.p > 3"}],
   "mark": {"type": "text", "text": "3.23\"", "color": "#008000", "fontSize": 9.5, "baseline": "bottom", "dy": -4},
   "encoding": {
    "x": {"field": "d", "type": "quantitative", "axis": {"orient": "top", "values": [12.4, 40.2, 71.6, 113.6, 136.7, 167.5, 194, 223.4, 253.8, 283.5, 315, 346], "title": null}},
    "y": {"field": "p", "type": "quantitative", "axis": {"orient": "right", "values": [0,0.25,0.5,0.75,1,1.25,1.5,1.75,2,2.25,2.5,2.75,3], "labelExpr": "datum.value == 0 ? '0.0' : format(datum.value, '.2f')", "labelFontSize": 14, "labelFontWeight": "bold", "title": null}}
   }},
  {"mark": {"type": "point", "opacity": 0},
   "encoding": {
    "x": {"field": "d", "type": "quantitative", "axis": {"orient": "top", "values": [31.5, 59.5, 90.5, 120.5, 151.5, 181.5, 212.5, 243.5, 273.5, 304.5, 334.5], "labels": false, "ticks": true, "tickSize": -13, "title": null}},
    "y": {"field": "p", "type": "quantitative", "axis": null}
   }},
  {"mark": {"type": "point", "opacity": 0},
   "encoding": {
    "x": {"field": "d", "type": "quantitative", "axis": {"orient": "bottom", "values": [31.5, 59.5, 90.5, 120.5, 151.5, 181.5, 212.5, 243.5, 273.5, 304.5, 334.5], "labels": false, "ticks": true, "tickSize": -13, "title": null}},
    "y": {"field": "p", "type": "quantitative", "axis": null}
   }}
 ]
}
]
}
